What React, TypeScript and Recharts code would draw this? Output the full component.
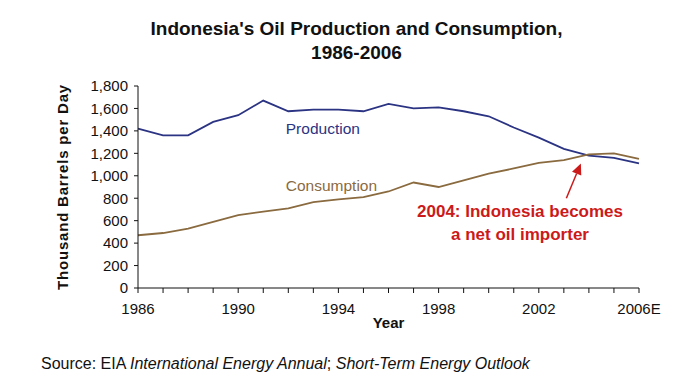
import React from 'react';
import { LineChart, Line, XAxis, YAxis, ReferenceLine, ReferenceDot } from 'recharts';

const years = [1986, 1987, 1988, 1989, 1990, 1991, 1992, 1993, 1994, 1995, 1996, 1997, 1998, 1999, 2000, 2001, 2002, 2003, 2004, 2005, 2006];
const production = [1420, 1360, 1360, 1480, 1540, 1670, 1575, 1590, 1590, 1575, 1640, 1600, 1610, 1575, 1530, 1430, 1340, 1240, 1180, 1160, 1110];
const consumption = [470, 490, 530, 590, 650, 680, 710, 765, 790, 810, 860, 940, 900, 960, 1020, 1065, 1115, 1140, 1190, 1200, 1150];
const yTicks = [0, 200, 400, 600, 800, 1000, 1200, 1400, 1600, 1800];
const labelledYears = [1986, 1990, 1994, 1998, 2002, 2006];

const data = years.map((year, i) => ({
  year,
  production: production[i],
  consumption: consumption[i],
}));

const fontFamily = '"Liberation Sans", Arial, sans-serif';
const PROD = '#2b3383';
const CONS = '#8a6a3f';
const RED = '#cc1a1a';

const formatYear = (y: number) => {
  if (!labelledYears.includes(y)) return '';
  return y === 2006 ? '2006E' : String(y);
};

const textLabel = (value: string, color: string, anchor: string, size: number, bold = false) =>
  (props: any) => {
    const vb = props.viewBox || {};
    return (
      <text
        x={vb.x}
        y={vb.y}
        fill={color}
        textAnchor={anchor}
        dominantBaseline="central"
        fontSize={size}
        fontWeight={bold ? 'bold' : 'normal'}
        fontFamily={fontFamily}
      >
        {value}
      </text>
    );
  };

const Arrow = (props: any) => {
  const { x1, y1, x2, y2 } = props;
  const ang = Math.atan2(y2 - y1, x2 - x1);
  const len = 11;
  const w = 5;
  const bx = x2 - len * Math.cos(ang);
  const by = y2 - len * Math.sin(ang);
  const px = -Math.sin(ang) * w;
  const py = Math.cos(ang) * w;
  return (
    <g>
      <line x1={x1} y1={y1} x2={bx} y2={by} stroke={RED} strokeWidth={1.5} />
      <polygon points={`${x2},${y2} ${bx + px},${by + py} ${bx - px},${by - py}`} fill={RED} />
    </g>
  );
};

export default function App() {
  return (
    <div style={{ position: 'absolute', left: 0, top: 0, width: 698, height: 384, background: '#fff', fontFamily }}>
      <div
        style={{
          position: 'absolute',
          left: 0,
          width: 698,
          top: 17,
          textAlign: 'center',
          fontWeight: 'bold',
          fontSize: 19,
          lineHeight: '24px',
          color: '#111',
          paddingLeft: 15,
          boxSizing: 'border-box',
        }}
      >
        Indonesia's Oil Production and Consumption,
        <br />
        1986-2006
      </div>
      <LineChart
        width={698}
        height={384}
        data={data}
        margin={{ top: 86, right: 59, bottom: 56, left: 68 }}
        style={{ position: 'absolute', left: 0, top: 0 }}
      >
        <XAxis
          dataKey="year"
          type="number"
          domain={[1986, 2006]}
          ticks={years}
          interval={0}
          tickFormatter={formatYear}
          height={40}
          tickSize={5}
          tickMargin={10}
          stroke="#111"
          tick={{ fill: '#111', fontSize: 15, fontFamily }}
          label={{ value: 'Year', position: 'insideBottom', offset: 0, fill: '#111', fontSize: 15, fontWeight: 'bold', fontFamily }}
        />
        <YAxis
          domain={[0, 1800]}
          ticks={yTicks}
          interval={0}
          width={70}
          tickSize={4}
          tickMargin={6}
          stroke="#111"
          tickFormatter={(v: number) => v.toLocaleString('en-US')}
          tick={{ fill: '#111', fontSize: 15, fontFamily }}
          label={{
            value: 'Thousand Barrels per Day',
            angle: -90,
            position: 'insideLeft',
            offset: 0,
            dx: -5,
            fill: '#111',
            fontSize: 15,
            fontWeight: 'bold',
            fontFamily,
            style: { textAnchor: 'middle', letterSpacing: 0.8 },
          }}
        />
        <Line type="linear" dataKey="production" stroke={PROD} strokeWidth={1.8} dot={false} isAnimationActive={false} />
        <Line type="linear" dataKey="consumption" stroke={CONS} strokeWidth={1.8} dot={false} isAnimationActive={false} />
        <ReferenceDot x={1991.9} y={1420} r={0} stroke="none" label={textLabel('Production', PROD, 'start', 15.5)} />
        <ReferenceDot x={1991.9} y={915} r={0} stroke="none" label={textLabel('Consumption', CONS, 'start', 15.5)} />
        <ReferenceDot x={2001.25} y={680} r={0} stroke="none" label={textLabel('2004: Indonesia becomes', RED, 'middle', 17, true)} />
        <ReferenceDot x={2001.25} y={480} r={0} stroke="none" label={textLabel('a net oil importer', RED, 'middle', 17, true)} />
        <ReferenceLine
          segment={[{ x: 2003.1, y: 800 }, { x: 2003.68, y: 1110 }]}
          shape={Arrow}
        />
      </LineChart>
      <div style={{ position: 'absolute', left: 41, top: 354, fontSize: 16, lineHeight: '20px', color: '#111', whiteSpace: 'nowrap' }}>
        Source: EIA <i>International Energy Annual</i>; <i>Short-Term Energy Outlook</i>
      </div>
    </div>
  );
}
